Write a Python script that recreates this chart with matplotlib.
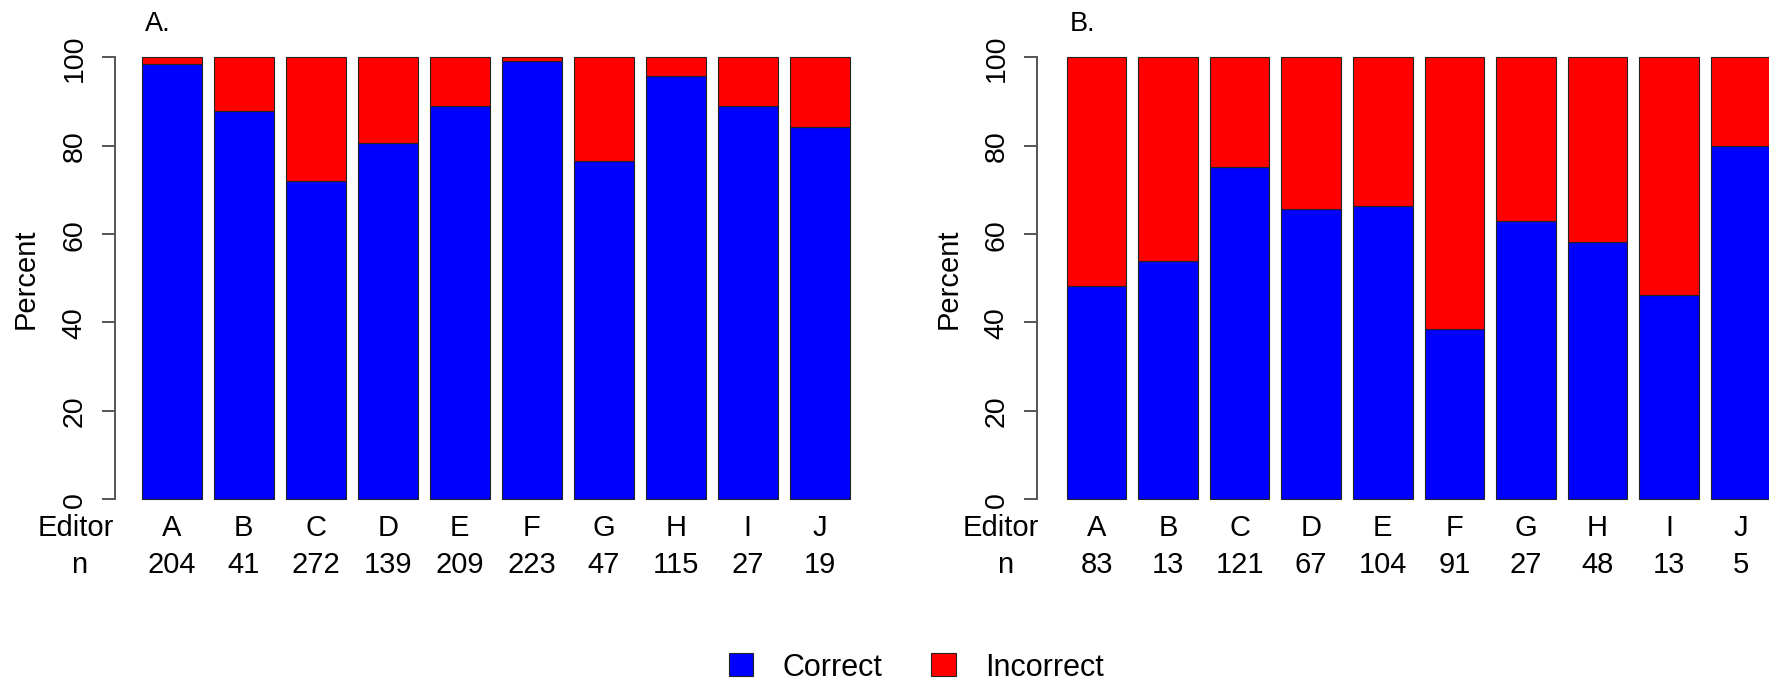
"""Stacked percent bars of correct vs incorrect calls per editor (two panels)."""

import matplotlib
matplotlib.use("Agg")
import matplotlib.pyplot as plt
import matplotlib.transforms as mtransforms
from matplotlib.patches import Patch

plt.rcParams["font.family"] = ["Liberation Sans", "DejaVu Sans"]

editors = ["A", "B", "C", "D", "E", "F", "G", "H", "I", "J"]

n_a = [204, 41, 272, 139, 209, 223, 47, 115, 27, 19]
correct_a = [98.5, 87.8, 72.1, 80.6, 89.0, 99.1, 76.6, 95.7, 88.9, 84.2]

n_b = [83, 13, 121, 67, 104, 91, 27, 48, 13, 5]
correct_b = [48.2, 53.8, 75.2, 65.7, 66.3, 38.5, 63.0, 58.3, 46.2, 80.0]

yticks = [0, 20, 40, 60, 80, 100]

BLUE = "#0000FF"
RED = "#FF0000"
AXIS_GRAY = "#555555"

W, H = 1769, 684


def px_rect(left, bottom_from_top, width, height):
    """Axes rect in figure fractions from pixel measurements."""
    return [left / W, (H - bottom_from_top) / H, width / W, height / H]


def draw_panel(ax, title, correct, counts, xlim):
    lefts = [0.2 + 1.2 * i for i in range(len(editors))]
    incorrect = [100 - c for c in correct]
    ax.bar(lefts, correct, width=1, align="edge", color=BLUE,
           edgecolor="#222222", linewidth=0.8, clip_on=False)
    ax.bar(lefts, incorrect, bottom=correct, width=1, align="edge", color=RED,
           edgecolor="#222222", linewidth=0.8, clip_on=False)

    ax.set_xlim(*xlim)
    ax.set_ylim(0, 100)
    for side in ("top", "right", "bottom"):
        ax.spines[side].set_visible(False)
    ax.spines["left"].set_color(AXIS_GRAY)
    ax.spines["left"].set_linewidth(1.4)
    ax.set_xticks([])
    ax.set_yticks(yticks)
    ax.tick_params(axis="y", length=9.5, width=1.4, color=AXIS_GRAY,
                   labelsize=20.5, pad=10)
    for lbl in ax.get_yticklabels():
        lbl.set_rotation(90)
        lbl.set_ha("right")
        lbl.set_va("center")

    ax.text(-0.1164, 0.5, "Percent", transform=ax.transAxes, rotation=90,
            ha="center", va="center", fontsize=21)

    # title and label rows use data x so they line up with the bars
    trans = mtransforms.blended_transform_factory(ax.transData, ax.transAxes)
    ax.text(0.25, 1.062, title, transform=trans, ha="left",
            va="baseline", fontsize=19.5)
    ax.text(-0.9, -0.0815, "Editor", transform=trans, ha="center",
            va="baseline", fontsize=21)
    ax.text(-0.84, -0.165, "n", transform=trans, ha="center",
            va="baseline", fontsize=21)
    for x, ed, n in zip(lefts, editors, counts):
        ax.text(x + 0.5, -0.0815, ed, transform=trans, ha="center",
                va="baseline", fontsize=21)
        ax.text(x + 0.5, -0.165, str(n), transform=trans, ha="center",
                va="baseline", fontsize=21)


fig = plt.figure(figsize=(W / 100, H / 100 - 0.001), dpi=100)
fig.patch.set_facecolor("white")

ax_a = fig.add_axes(px_rect(114.7, 500, 762, 441.7))
ax_b = fig.add_axes(px_rect(1036.9, 500, 760.3, 441.7))

draw_panel(ax_a, "A.", correct_a, n_a, (-0.25, 12.45))
draw_panel(ax_b, "B.", correct_b, n_b, (-0.3, 12.45))

handles = [
    Patch(facecolor=BLUE, edgecolor="#222222", linewidth=0.8),
    Patch(facecolor=RED, edgecolor="#222222", linewidth=0.8),
]
fig.legend(handles, ["Correct", "Incorrect"], loc="center left",
           bbox_to_anchor=(729 / W, 1 - 668 / H), ncol=2, frameon=False,
           fontsize=22, handlelength=0.8, handleheight=0.8,
           handletextpad=0.95, columnspacing=1.6, borderpad=0,
           borderaxespad=0)

fig.savefig("out.png", dpi=100, facecolor="white")
